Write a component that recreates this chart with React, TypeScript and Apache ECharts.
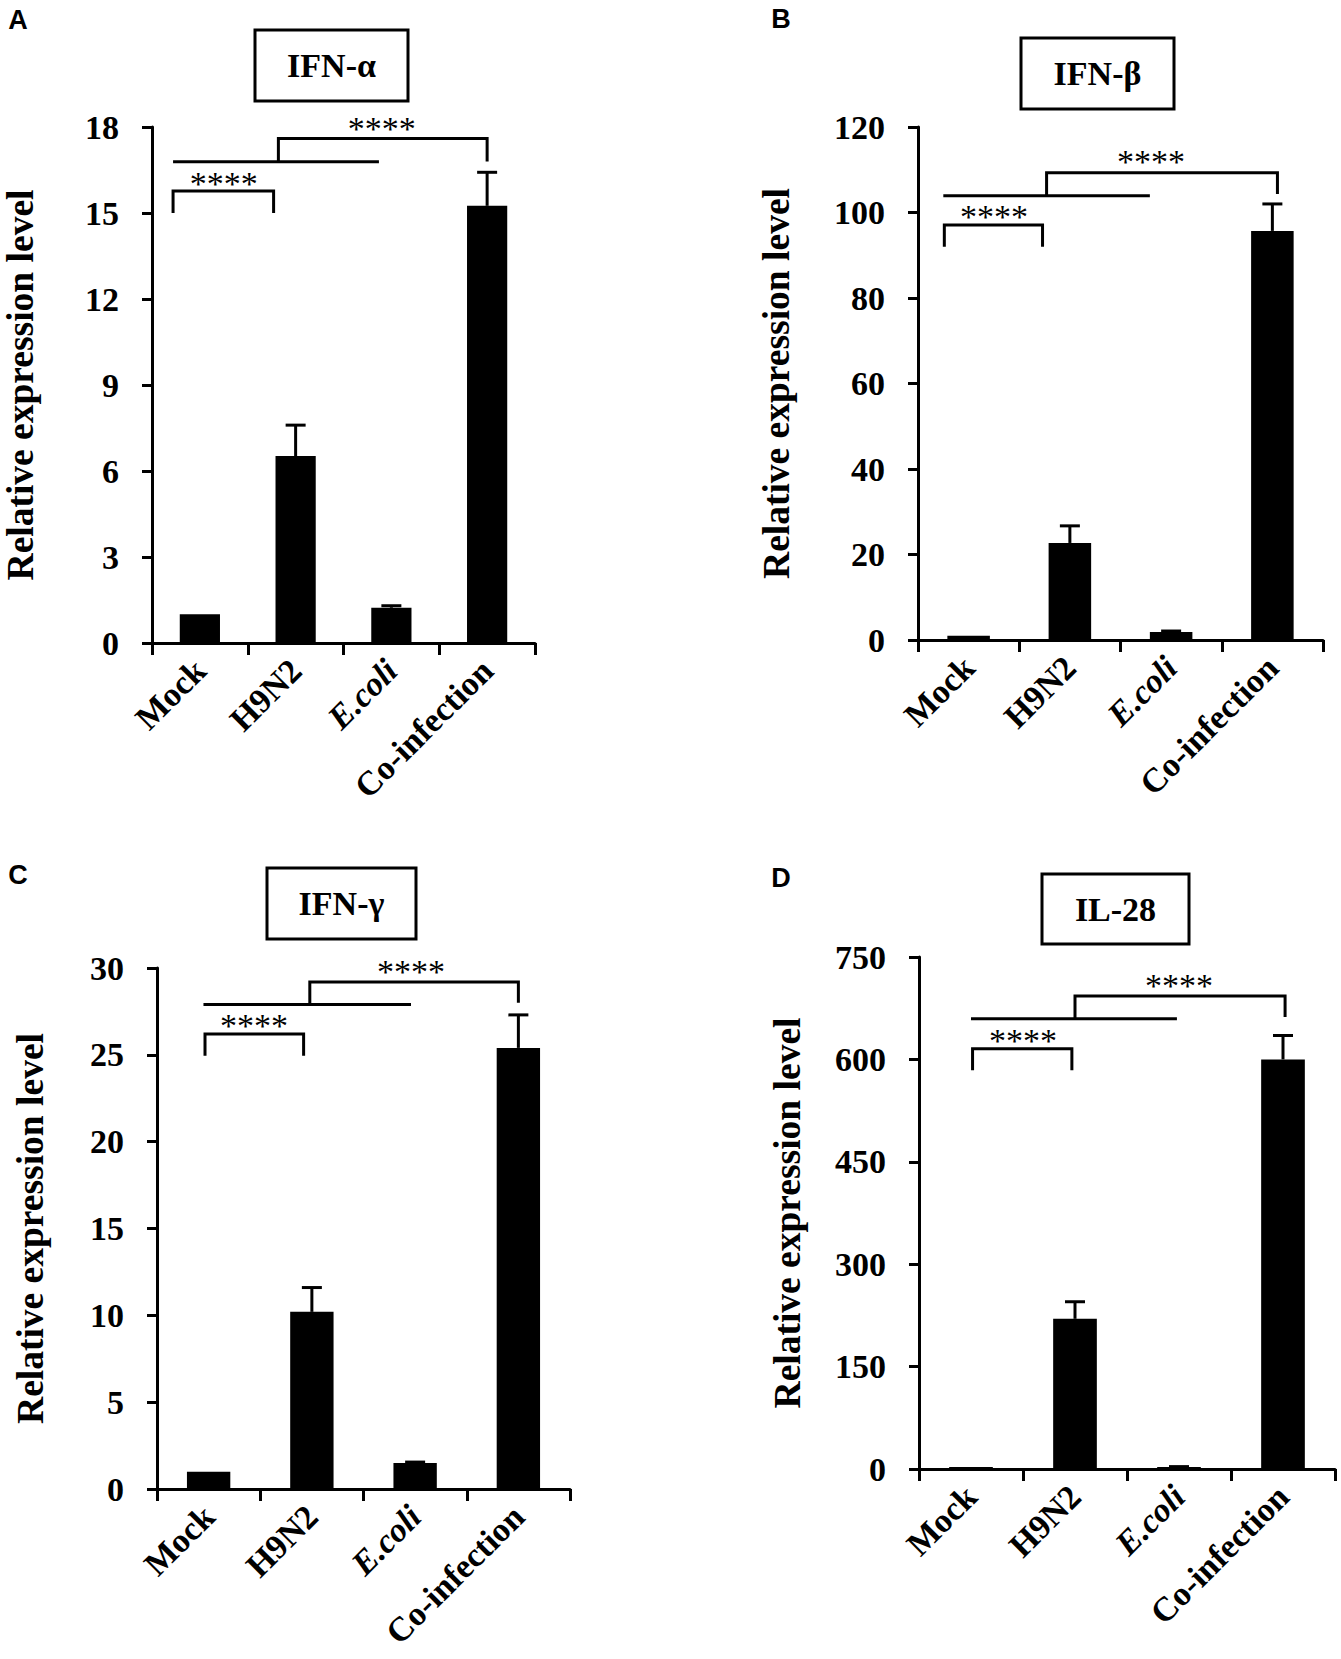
import React, { useEffect, useRef } from "react";
import * as echarts from "echarts";

// ---------- data ----------
const categories = ["Mock", "H9N2", "E.coli", "Co-infection"];

const ifnAlphaMean = [1.0, 6.52, 1.23, 15.25];
const ifnAlphaErr = [0, 1.08, 0.07, 1.17];
const ifnBetaMean = [1.0, 22.7, 1.9, 95.7];
const ifnBetaErr = [0, 4.0, 0.2, 6.3];
const ifnGammaMean = [1.0, 10.2, 1.5, 25.4];
const ifnGammaErr = [0, 1.4, 0.05, 1.9];
const il28Mean = [1.0, 220, 3.0, 600];
const il28Err = [0, 25, 0.5, 35];

const axisMax = [18, 120, 30, 750];
const axisInterval = [3, 20, 5, 150];
const panelTitles = ["IFN-α", "IFN-β", "IFN-γ", "IL-28"];
const panelLetters = ["A", "B", "C", "D"];

// significance brackets: [xStart, xEnd, yTop, yLeftEnd, yRightEnd] (category index / value units)
const ifnAlphaBrackets = [
  [-0.28, 0.77, 15.77, 15.0, 15.0],
  [-0.28, 1.87, 16.79, 16.79, 16.79],
  [0.82, 3.0, 17.6, 16.79, 16.8],
];
const ifnAlphaStars = [[0.25, 16.2], [1.9, 18.12]];
const ifnBetaBrackets = [
  [-0.24, 0.73, 97.1, 92.0, 92.0],
  [-0.25, 1.79, 103.9, 103.9, 103.9],
  [0.77, 3.05, 109.3, 103.9, 104.3],
];
const ifnBetaStars = [[0.25, 100.2], [1.8, 113.0]];
const ifnGammaBrackets = [
  [-0.035, 0.92, 26.2, 24.95, 24.95],
  [-0.05, 1.96, 27.9, 27.9, 27.9],
  [0.98, 3.0, 29.2, 27.9, 28.0],
];
const ifnGammaStars = [[0.44, 26.95], [1.96, 30.1]];
const il28Brackets = [
  [0.015, 0.97, 615.7, 584, 584],
  [0.0, 1.98, 659.6, 659.6, 659.6],
  [1.0, 3.02, 692.7, 659.6, 662],
];
const il28Stars = [[0.5, 635], [2.0, 716]];

const panelMeans = [ifnAlphaMean, ifnBetaMean, ifnGammaMean, il28Mean];
const panelErrs = [ifnAlphaErr, ifnBetaErr, ifnGammaErr, il28Err];
const panelBrackets = [ifnAlphaBrackets, ifnBetaBrackets, ifnGammaBrackets, il28Brackets];
const panelStars = [ifnAlphaStars, ifnBetaStars, ifnGammaStars, il28Stars];

// ---------- layout ----------
const gridLayout = [
  { left: 152, top: 127, width: 383, height: 516 },
  { left: 918, top: 127, width: 405, height: 513 },
  { left: 157, top: 968, width: 413, height: 521 },
  { left: 919, top: 957, width: 416, height: 512 },
];
const nameGaps = [113, 123, 108, 113];
const titleBoxes = [
  { x: 255, y: 30, w: 153, h: 71 },
  { x: 1021, y: 38, w: 153, h: 71 },
  { x: 267, y: 868, w: 149, h: 71 },
  { x: 1042, y: 874, w: 147, h: 70 },
];
const letterPos = [
  [18, 20],
  [781, 19],
  [18, 875],
  [781, 878],
];

const SERIF = "Liberation Serif";
const LABEL_SIZE = 34;

const boldRich = {
  b: { fontFamily: SERIF, fontWeight: "bold", fontSize: LABEL_SIZE, color: "#000" },
  it: { fontFamily: SERIF, fontWeight: "bold", fontStyle: "italic", fontSize: LABEL_SIZE, color: "#000" },
};

function buildOption() {
  const grid = gridLayout.map((g) => ({ ...g, containLabel: false }));
  const xAxis: any[] = [];
  const yAxis: any[] = [];
  const series: any[] = [];

  for (let i = 0; i < 4; i++) {
    xAxis.push({
      type: "category",
      gridIndex: i,
      data: categories,
      boundaryGap: true,
      axisLine: { show: true, onZero: false, lineStyle: { color: "#000", width: 3 } },
      axisTick: { show: true, length: 12, lineStyle: { color: "#000", width: 3 } },
      axisLabel: {
        interval: 0,
        rotate: 45,
        margin: 22,
        color: "#000",
        fontFamily: SERIF,
        fontWeight: "bold",
        fontSize: LABEL_SIZE,
        formatter: (v: string) => (v === "E.coli" ? "{it|" + v + "}" : "{b|" + v + "}"),
        rich: boldRich,
      },
      splitLine: { show: false },
    });
    yAxis.push({
      type: "value",
      gridIndex: i,
      min: 0,
      max: axisMax[i],
      interval: axisInterval[i],
      name: "Relative expression level",
      nameLocation: "middle",
      nameRotate: 90,
      nameGap: nameGaps[i],
      nameTextStyle: {
        fontFamily: SERIF,
        fontWeight: "bold",
        fontSize: 37.5,
        color: "#000",
      },
      axisLine: { show: true, onZero: false, lineStyle: { color: "#000", width: 3 } },
      axisTick: { show: true, length: 10, lineStyle: { color: "#000", width: 3 } },
      axisLabel: {
        margin: 33,
        color: "#000",
        fontFamily: SERIF,
        fontWeight: "bold",
        fontSize: LABEL_SIZE,
        formatter: (v: number) => "{b|" + v + "}",
        rich: boldRich,
      },
      splitLine: { show: false },
    });
  }
  // hidden numeric x axes for annotations
  for (let i = 0; i < 4; i++) {
    xAxis.push({
      type: "value",
      gridIndex: i,
      min: -0.5,
      max: 3.5,
      show: false,
      axisLine: { onZero: false },
      splitLine: { show: false },
    });
  }

  for (let i = 0; i < 4; i++) {
    const mean = panelMeans[i];
    const err = panelErrs[i];
    series.push({
      type: "bar",
      xAxisIndex: i,
      yAxisIndex: i,
      data: mean,
      barWidth: "42%",
      barMinHeight: 2,
      itemStyle: { color: "#000" },
      z: 2,
    });
    series.push({
      type: "custom",
      xAxisIndex: i,
      yAxisIndex: i,
      z: 3,
      data: mean.map((m, j) => [j, m, err[j]]),
      renderItem: (params: any, api: any) => {
        const e = api.value(2);
        if (!(e > 0)) return null;
        const p0 = api.coord([api.value(0), api.value(1)]);
        const p1 = api.coord([api.value(0), api.value(1) + e]);
        return {
          type: "group",
          children: [
            {
              type: "line",
              shape: { x1: p0[0], y1: p0[1], x2: p1[0], y2: p1[1] },
              style: { stroke: "#000", lineWidth: 3 },
            },
            {
              type: "line",
              shape: { x1: p1[0] - 10, y1: p1[1], x2: p1[0] + 10, y2: p1[1] },
              style: { stroke: "#000", lineWidth: 3 },
            },
          ],
        };
      },
    });
    series.push({
      type: "custom",
      xAxisIndex: 4 + i,
      yAxisIndex: i,
      z: 3,
      clip: false,
      data: panelBrackets[i],
      renderItem: (params: any, api: any) => {
        const x1 = api.value(0);
        const x2 = api.value(1);
        const yTop = api.value(2);
        const yL = api.value(3);
        const yR = api.value(4);
        const pts = [
          api.coord([x1, yL]),
          api.coord([x1, yTop]),
          api.coord([x2, yTop]),
          api.coord([x2, yR]),
        ];
        return {
          type: "polyline",
          shape: { points: pts },
          style: { stroke: "#000", lineWidth: 3, fill: null },
        };
      },
    });
    series.push({
      type: "custom",
      xAxisIndex: 4 + i,
      yAxisIndex: i,
      z: 3,
      clip: false,
      data: panelStars[i],
      renderItem: (params: any, api: any) => {
        const p = api.coord([api.value(0), api.value(1)]);
        return {
          type: "text",
          x: p[0],
          y: p[1] + 5,
          style: {
            text: "****",
            font: '34px "Liberation Serif"',
            fill: "#000",
            align: "center",
            verticalAlign: "middle",
            textAlign: "center",
            textVerticalAlign: "middle",
          },
        };
      },
    });
  }

  const graphic: any[] = [];
  for (let i = 0; i < 4; i++) {
    const b = titleBoxes[i];
    graphic.push({
      type: "rect",
      shape: { x: b.x, y: b.y, width: b.w, height: b.h },
      style: { fill: "#fff", stroke: "#000", lineWidth: 3 },
      z: 10,
    });
    graphic.push({
      type: "text",
      x: b.x + b.w / 2,
      y: b.y + b.h / 2,
      style: {
        text: panelTitles[i],
        font: 'bold 34px "Liberation Serif"',
        fill: "#000",
        align: "center",
        verticalAlign: "middle",
        textAlign: "center",
        textVerticalAlign: "middle",
      },
      z: 11,
    });
    graphic.push({
      type: "text",
      x: letterPos[i][0],
      y: letterPos[i][1],
      style: {
        text: panelLetters[i],
        font: 'bold 27px "Liberation Sans"',
        fill: "#000",
        align: "center",
        verticalAlign: "middle",
        textAlign: "center",
        textVerticalAlign: "middle",
      },
      z: 11,
    });
  }

  return {
    animation: false,
    backgroundColor: "#fff",
    grid,
    xAxis,
    yAxis,
    series,
    graphic,
  };
}

export default function App() {
  const ref = useRef<HTMLDivElement>(null);
  useEffect(() => {
    if (!ref.current) return;
    const chart = echarts.init(ref.current, undefined, { renderer: "svg" });
    chart.setOption(buildOption() as any);
    return () => chart.dispose();
  }, []);
  return (
    <div
      ref={ref}
      style={{ position: "absolute", left: 0, top: 0, width: 1341, height: 1659, background: "#fff" }}
    />
  );
}
